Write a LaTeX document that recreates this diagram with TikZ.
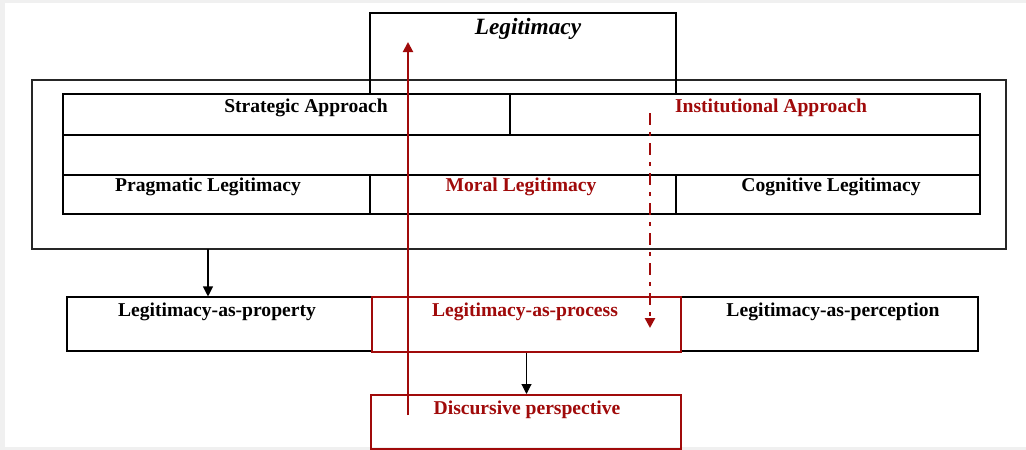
\documentclass[tikz,border=0pt]{standalone}
\usepackage{fontspec}
\setmainfont{Liberation Serif}
\usetikzlibrary{arrows.meta,fit}
\definecolor{legred}{RGB}{160,10,10}
\begin{document}
\begin{tikzpicture}[x=0.75pt,y=-0.75pt,
    box/.style={draw,line width=0.8pt,inner sep=0pt},
    redbox/.style={draw=legred,line width=1.5pt,inner sep=0pt},
    txt/.style={font=\bfseries\fontsize{14.7}{17}\selectfont,inner sep=0pt},
    redtxt/.style={txt,text=legred},
    arr/.style={line width=0.8pt,-{Triangle[width=7.5pt,length=7.5pt]}},
    redarr/.style={draw=legred,line width=1.5pt,-{Triangle[width=7.5pt,length=7.5pt]}}]
    \useasboundingbox (0,0) rectangle (1026,450);
    \fill[gray!12] (0,0) rectangle (1026,450);
    \fill[white] (5,3) rectangle (1026,447);
    \node[box,line width=1.6pt,draw=black!85,fit={(32,80) (1006,249)}] (frame) {};
    \node[box,fit={(370,13) (676,94)}] (legit) {};
    \node[box,fit={(63,94) (510,135)}] (strat) {};
    \node[box,fit={(510,94) (980,135)}] (inst) {};
    \node[box,fit={(63,135) (980,175)}] (mid) {};
    \node[box,fit={(63,175) (370,214)}] (prag) {};
    \node[box,fit={(370,175) (676,214)}] (moral) {};
    \node[box,fit={(676,175) (980,214)}] (cog) {};
    \node[box,fit={(67,297) (372,351)}] (prop) {};
    \node[box,fit={(681,297) (978,351)}] (perc) {};
    \node[redbox,fit={(372,297) (681,352)}] (proc) {};
    \node[redbox,fit={(371,395) (681,449)}] (disc) {};
    \node[txt,font=\bfseries\itshape\fontsize{17.5}{20}\selectfont] (legitT) at (528,29) {Legitimacy};
    \node[txt] (stratT) at (306,108) {Strategic Approach};
    \node[redtxt] (instT) at (771,108) {Institutional Approach};
    \node[txt] (pragT) at (208,187) {Pragmatic Legitimacy};
    \node[redtxt] (moralT) at (521,187) {Moral Legitimacy};
    \node[txt] (cogT) at (831,187) {Cognitive Legitimacy};
    \node[txt] (propT) at (217,312) {Legitimacy-as-property};
    \node[redtxt] (procT) at (525,312) {Legitimacy-as-process};
    \node[txt] (percT) at (833,312) {Legitimacy-as-perception};
    \node[redtxt] (discT) at (527,410) {Discursive perspective};
    \coordinate (down) at (208,249);
    \coordinate (upfrom) at (408,415);
    \coordinate (upto) at (408,42);
    \coordinate (instfrom) at (650,113);
    \coordinate (instto) at (650,328);
    \draw[arr] (down) -- (down |- prop.north);
    \draw[arr] (proc.south) -- (proc.south |- disc.north);
    \draw[redarr] (upfrom) -- (upto);
    \draw[redarr,line width=2pt,dash pattern=on 9pt off 5.5pt on 2.5pt off 5.5pt] (instfrom) -- (instto);
\end{tikzpicture}
\end{document}
